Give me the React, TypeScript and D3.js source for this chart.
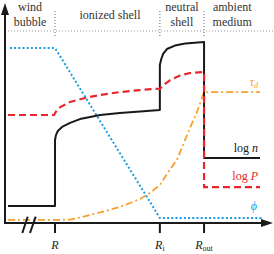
import React from "react";
import * as d3 from "d3";

const WIDTH = 274;
const HEIGHT = 254;

// radius in units of R (R = 1), y in arbitrary log units
const R_IN = 1;
const R_I = 3.23;
const R_OUT = 4.17;
const R_END = 5.36;

const logN: [number, number][] = [
  [0, 8.4], [1, 8.4], [1, 40.9], [1.02, 43.3], [1.06, 45.3], [1.15, 47.3],
  [1.32, 49.3], [1.53, 51.2], [1.96, 53.2], [2.38, 54.2], [2.81, 54.9],
  [3.23, 55.7], [3.23, 77.8], [3.26, 80.8], [3.3, 83.3], [3.38, 85.7],
  [3.55, 87.4], [3.77, 88.4], [4.17, 89.2], [4.17, 32.0], [5.36, 32.0],
];

const logP: [number, number][] = [
  [0, 53.2], [0.98, 53.2], [1.04, 55.7], [1.11, 57.1], [1.32, 59.6],
  [1.64, 61.6], [1.96, 63.1], [2.38, 64.5], [2.81, 65.5], [3.23, 66.2],
  [3.34, 68.5], [3.45, 70.4], [3.66, 72.7], [3.87, 73.9], [4.17, 74.4],
  [4.17, 17.7], [5.36, 17.7],
];

const tauD: [number, number][] = [
  [0, 1.5], [1, 1.5], [1.32, 1.7], [1.53, 2.7], [1.96, 5.2], [2.38, 7.9],
  [2.81, 11.8], [3.02, 14.8], [3.23, 18.7], [3.38, 24.1], [3.6, 31.5],
  [3.87, 46.8], [4.02, 54.7], [4.17, 64.5], [5.36, 64.5],
];

const phi: [number, number][] = [
  [0.04, 86.2], [1, 86.2], [3.23, 2.5], [5.4, 2.5],
];

const regionNames = [["wind", "bubble"], ["ionized shell"], ["neutral", "shell"], ["ambient", "medium"]];
const regionCenters = [0.47, 2.17, 3.7, 4.77];
const regionEdges = [R_IN, R_I, R_OUT];

const tickPos = [R_IN, R_I, R_OUT];
const tickSubs = ["", "i", "out"];

const BLACK = "#1a1a1a";
const RED = "#e8262b";
const ORANGE = "#f5a030";
const BLUE = "#1b9ddf";
const SERIF = "'Liberation Serif', 'Times New Roman', serif";

export default function App() {
  const x = d3.scaleLinear().domain([0, R_END]).range([8, 260]);
  const y = d3.scaleLinear().domain([0, 100]).range([223, 20]);
  const line = d3.line<[number, number]>().x(d => x(d[0])).y(d => y(d[1]));

  const axisY = y(0);
  const axisX = 5;

  return (
    <svg width={WIDTH} height={HEIGHT} style={{ position: "absolute", left: 0, top: 0 }}>
      <rect width={WIDTH} height={HEIGHT} fill="#fff" />

      {/* region header */}
      <line x1={8} x2={274} y1={31} y2={31} stroke="#999" strokeWidth={1} strokeDasharray="1,2" />
      {regionEdges.map((r, i) => (
        <line key={i} x1={x(r)} x2={x(r)} y1={11} y2={36} stroke="#999" strokeWidth={1.5} strokeDasharray="1,2" />
      ))}
      {regionNames.map((names, i) => (
        <text
          key={i}
          x={x(regionCenters[i])}
          textAnchor="middle"
          fontFamily={SERIF}
          fontSize={12}
          fill="#333"
        >
          {names.length === 1 ? (
            <tspan x={x(regionCenters[i])} y={19}>{names[0]}</tspan>
          ) : (
            names.map((n, j) => (
              <tspan key={j} x={x(regionCenters[i])} y={11 + j * 15}>{n}</tspan>
            ))
          )}
        </text>
      ))}

      {/* curves */}
      <path d={line(phi) ?? ""} fill="none" stroke={BLUE} strokeWidth={2} strokeDasharray="2,2.2" />
      <path d={line(tauD) ?? ""} fill="none" stroke={ORANGE} strokeWidth={1.8} strokeDasharray="7,3,2,3" />
      <path d={line(logN) ?? ""} fill="none" stroke={BLACK} strokeWidth={2} strokeLinejoin="round" />
      <path d={line(logP) ?? ""} fill="none" stroke={RED} strokeWidth={2.2} strokeDasharray="7,4" />

      {/* curve labels */}
      <text x={258} y={y(tauD[tauD.length - 1][1]) - 6} textAnchor="end" fontFamily={SERIF} fontSize={12} fontStyle="italic" fill={ORANGE}>
        τ<tspan fontSize={8} dy={2}>d</tspan>
      </text>
      <text x={258} y={y(logN[logN.length - 1][1]) - 6} textAnchor="end" fontFamily={SERIF} fontSize={12} fill={BLACK}>
        log <tspan fontStyle="italic">n</tspan>
      </text>
      <text x={258} y={y(logP[logP.length - 1][1]) - 7} textAnchor="end" fontFamily={SERIF} fontSize={12} fill={RED}>
        log <tspan fontStyle="italic">P</tspan>
      </text>
      <text x={257} y={y(phi[phi.length - 1][1]) - 8} textAnchor="end" fontFamily={SERIF} fontSize={12} fontStyle="italic" fill={BLUE}>
        ϕ
      </text>

      {/* axes */}
      <line x1={axisX} x2={axisX} y1={axisY + 1} y2={14} stroke={BLACK} strokeWidth={2} />
      <polygon points={`${axisX},3 ${axisX - 4},15 ${axisX + 4},15`} fill={BLACK} />
      <line x1={axisX - 1} x2={263} y1={axisY} y2={axisY} stroke={BLACK} strokeWidth={2} />
      <polygon points={`273,${axisY} 261,${axisY - 4} 261,${axisY + 4}`} fill={BLACK} />

      {/* axis break */}
      <line x1={22.3} x2={27.7} y1={233} y2={216.7} stroke={BLACK} strokeWidth={2} />
      <line x1={30} x2={35.7} y1={233} y2={216.7} stroke={BLACK} strokeWidth={2} />

      {/* ticks */}
      {tickPos.map((r, i) => (
        <g key={i}>
          <line x1={x(r)} x2={x(r)} y1={axisY} y2={axisY + 10} stroke={BLACK} strokeWidth={2} />
          <text x={x(r)} y={249} textAnchor="middle" fontFamily={SERIF} fontSize={12} fill="#222">
            <tspan fontStyle="italic">R</tspan>
            {tickSubs[i] && <tspan fontSize={8} dy={2}>{tickSubs[i]}</tspan>}
          </text>
        </g>
      ))}
    </svg>
  );
}
